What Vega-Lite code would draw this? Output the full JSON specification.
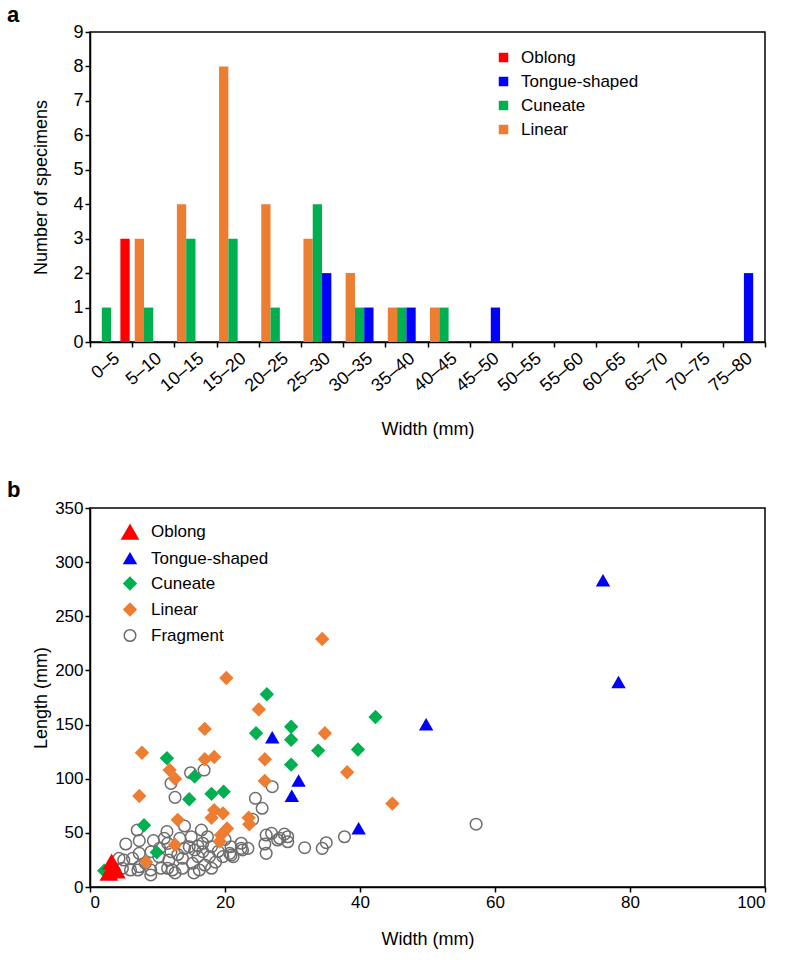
{
  "$schema": "https://vega.github.io/schema/vega-lite/v6.json",
  "background": "white",
  "padding": {"left": 6, "top": 3, "right": 15, "bottom": 5},
  "spacing": 38,
  "config": {
    "font": "Liberation Sans",
    "view": {"stroke": "black", "strokeWidth": 1.5},
    "axis": {"domainColor": "black", "domainWidth": 1.5, "tickColor": "black", "tickWidth": 1.5, "tickSize": 5, "labelColor": "black", "titleColor": "black", "labelFontSize": 17, "titleFontSize": 18, "titleFontWeight": "normal", "grid": false, "labelFont": "Liberation Sans", "titleFont": "Liberation Sans"},
    "legend": {"labelFontSize": 17, "labelFont": "Liberation Sans", "labelColor": "black"},
    "title": {"font": "Liberation Sans", "fontSize": 22, "fontWeight": "bold", "color": "black"}
  },
  "datasets": {
    "hist": [
      {"bin": "0–5", "type": "Cuneate", "count": 1},
      {"bin": "0–5", "type": "Oblong", "count": 3},
      {"bin": "5–10", "type": "Linear", "count": 3},
      {"bin": "5–10", "type": "Cuneate", "count": 1},
      {"bin": "10–15", "type": "Linear", "count": 4},
      {"bin": "10–15", "type": "Cuneate", "count": 3},
      {"bin": "15–20", "type": "Linear", "count": 8},
      {"bin": "15–20", "type": "Cuneate", "count": 3},
      {"bin": "20–25", "type": "Linear", "count": 4},
      {"bin": "20–25", "type": "Cuneate", "count": 1},
      {"bin": "25–30", "type": "Linear", "count": 3},
      {"bin": "25–30", "type": "Cuneate", "count": 4},
      {"bin": "25–30", "type": "Tongue-shaped", "count": 2},
      {"bin": "30–35", "type": "Linear", "count": 2},
      {"bin": "30–35", "type": "Cuneate", "count": 1},
      {"bin": "30–35", "type": "Tongue-shaped", "count": 1},
      {"bin": "35–40", "type": "Linear", "count": 1},
      {"bin": "35–40", "type": "Cuneate", "count": 1},
      {"bin": "35–40", "type": "Tongue-shaped", "count": 1},
      {"bin": "40–45", "type": "Linear", "count": 1},
      {"bin": "40–45", "type": "Cuneate", "count": 1},
      {"bin": "45–50", "type": "Tongue-shaped", "count": 1},
      {"bin": "75–80", "type": "Tongue-shaped", "count": 2}
    ],
    "pts": [
      {"type": "Fragment", "w": 14.9, "l": 105.5}, {"type": "Fragment", "w": 16.9, "l": 108}, {"type": "Fragment", "w": 12.0, "l": 95.7},
      {"type": "Fragment", "w": 12.6, "l": 82.8}, {"type": "Fragment", "w": 27.0, "l": 92.6}, {"type": "Fragment", "w": 24.5, "l": 81.9},
      {"type": "Fragment", "w": 25.5, "l": 72.7}, {"type": "Fragment", "w": 24.1, "l": 62.5}, {"type": "Fragment", "w": 7.0, "l": 52.6},
      {"type": "Fragment", "w": 11.4, "l": 51.1}, {"type": "Fragment", "w": 14.0, "l": 56.3}, {"type": "Fragment", "w": 16.5, "l": 52.6},
      {"type": "Fragment", "w": 17.4, "l": 46.4}, {"type": "Fragment", "w": 5.3, "l": 39.7}, {"type": "Fragment", "w": 7.3, "l": 42.8},
      {"type": "Fragment", "w": 9.4, "l": 42.8}, {"type": "Fragment", "w": 11.0, "l": 45}, {"type": "Fragment", "w": 13.3, "l": 45},
      {"type": "Fragment", "w": 15.0, "l": 46.4}, {"type": "Fragment", "w": 16.0, "l": 37.9}, {"type": "Fragment", "w": 18.0, "l": 37.2},
      {"type": "Fragment", "w": 20.9, "l": 37.2}, {"type": "Fragment", "w": 22.4, "l": 40.4}, {"type": "Fragment", "w": 23.4, "l": 35.7},
      {"type": "Fragment", "w": 26.1, "l": 48}, {"type": "Fragment", "w": 27.8, "l": 43.4}, {"type": "Fragment", "w": 29.3, "l": 46.4},
      {"type": "Fragment", "w": 28.8, "l": 48.8}, {"type": "Fragment", "w": 25.9, "l": 39.7}, {"type": "Fragment", "w": 26.1, "l": 31.1},
      {"type": "Fragment", "w": 31.8, "l": 36.3}, {"type": "Fragment", "w": 34.4, "l": 35.7}, {"type": "Fragment", "w": 35.0, "l": 40.9},
      {"type": "Fragment", "w": 37.7, "l": 46.4}, {"type": "Fragment", "w": 57.2, "l": 58},
      {"type": "Fragment", "w": 11.5, "l": 40.3}, {"type": "Fragment", "w": 14.7, "l": 37.2}, {"type": "Fragment", "w": 5.0, "l": 24.9},
      {"type": "Fragment", "w": 6.3, "l": 26.5}, {"type": "Fragment", "w": 7.3, "l": 31.1}, {"type": "Fragment", "w": 10.2, "l": 28},
      {"type": "Fragment", "w": 11.7, "l": 24.9}, {"type": "Fragment", "w": 13.7, "l": 26.5}, {"type": "Fragment", "w": 15.2, "l": 21.9},
      {"type": "Fragment", "w": 4.8, "l": 17.3}, {"type": "Fragment", "w": 6.0, "l": 15.7}, {"type": "Fragment", "w": 7.3, "l": 18.7},
      {"type": "Fragment", "w": 9.0, "l": 11.1}, {"type": "Fragment", "w": 10.5, "l": 17.3}, {"type": "Fragment", "w": 12.2, "l": 15.7},
      {"type": "Fragment", "w": 13.7, "l": 17.3}, {"type": "Fragment", "w": 16.7, "l": 40.4}, {"type": "Fragment", "w": 17.7, "l": 28},
      {"type": "Fragment", "w": 16.0, "l": 28}, {"type": "Fragment", "w": 17.0, "l": 20.3}, {"type": "Fragment", "w": 18.0, "l": 17.3},
      {"type": "Fragment", "w": 16.2, "l": 15.7}, {"type": "Fragment", "w": 19.7, "l": 28}, {"type": "Fragment", "w": 20.7, "l": 31.1},
      {"type": "Fragment", "w": 22.6, "l": 34.2}, {"type": "Fragment", "w": 21.2, "l": 28}, {"type": "Fragment", "w": 26.9, "l": 49.6},
      {"type": "Fragment", "w": 28.1, "l": 45}, {"type": "Fragment", "w": 29.3, "l": 41.8}, {"type": "Fragment", "w": 9.05, "l": 32.6},
      {"type": "Fragment", "w": 10.3, "l": 35.7}, {"type": "Fragment", "w": 12.0, "l": 32.6}, {"type": "Fragment", "w": 14.0, "l": 35.7},
      {"type": "Fragment", "w": 15.5, "l": 34.2}, {"type": "Fragment", "w": 16.7, "l": 32.6}, {"type": "Fragment", "w": 11.5, "l": 17.3},
      {"type": "Fragment", "w": 9.0, "l": 15.7}, {"type": "Fragment", "w": 7.1, "l": 15.7}, {"type": "Fragment", "w": 4.3, "l": 26.5},
      {"type": "Fragment", "w": 20.9, "l": 29.5}, {"type": "Fragment", "w": 22.4, "l": 35.7}, {"type": "Fragment", "w": 8.2, "l": 22},
      {"type": "Fragment", "w": 13.0, "l": 30}, {"type": "Fragment", "w": 19.0, "l": 33}, {"type": "Fragment", "w": 18.6, "l": 23},
      {"type": "Fragment", "w": 12.6, "l": 13}, {"type": "Fragment", "w": 15.4, "l": 13}, {"type": "Fragment", "w": 20.0, "l": 44},
      {"type": "Linear", "w": 34.4, "l": 229}, {"type": "Linear", "w": 20.2, "l": 193}, {"type": "Linear", "w": 34.8, "l": 142},
      {"type": "Linear", "w": 38.1, "l": 106}, {"type": "Linear", "w": 44.8, "l": 77}, {"type": "Linear", "w": 25.0, "l": 164},
      {"type": "Linear", "w": 17.0, "l": 146}, {"type": "Linear", "w": 25.9, "l": 118}, {"type": "Linear", "w": 25.9, "l": 98},
      {"type": "Linear", "w": 17.0, "l": 118}, {"type": "Linear", "w": 18.4, "l": 120}, {"type": "Linear", "w": 7.7, "l": 124},
      {"type": "Linear", "w": 11.8, "l": 108}, {"type": "Linear", "w": 12.6, "l": 100}, {"type": "Linear", "w": 7.3, "l": 84},
      {"type": "Linear", "w": 18.4, "l": 71}, {"type": "Linear", "w": 19.7, "l": 68}, {"type": "Linear", "w": 18.0, "l": 64},
      {"type": "Linear", "w": 13.0, "l": 62}, {"type": "Linear", "w": 23.5, "l": 64}, {"type": "Linear", "w": 23.6, "l": 58},
      {"type": "Linear", "w": 20.3, "l": 54}, {"type": "Linear", "w": 19.4, "l": 48}, {"type": "Linear", "w": 19.2, "l": 42},
      {"type": "Linear", "w": 12.6, "l": 39}, {"type": "Linear", "w": 8.3, "l": 23},
      {"type": "Cuneate", "w": 24.6, "l": 142}, {"type": "Cuneate", "w": 29.8, "l": 148}, {"type": "Cuneate", "w": 29.8, "l": 136},
      {"type": "Cuneate", "w": 33.8, "l": 126}, {"type": "Cuneate", "w": 39.7, "l": 127}, {"type": "Cuneate", "w": 29.8, "l": 113},
      {"type": "Cuneate", "w": 11.4, "l": 119}, {"type": "Cuneate", "w": 15.5, "l": 102}, {"type": "Cuneate", "w": 14.7, "l": 81},
      {"type": "Cuneate", "w": 18.0, "l": 86}, {"type": "Cuneate", "w": 19.8, "l": 88}, {"type": "Cuneate", "w": 8.0, "l": 57},
      {"type": "Cuneate", "w": 9.9, "l": 32}, {"type": "Cuneate", "w": 2.1, "l": 15}, {"type": "Cuneate", "w": 42.3, "l": 157},
      {"type": "Cuneate", "w": 26.2, "l": 178},
      {"type": "Tongue-shaped", "w": 76.0, "l": 283}, {"type": "Tongue-shaped", "w": 78.3, "l": 189}, {"type": "Tongue-shaped", "w": 49.8, "l": 150},
      {"type": "Tongue-shaped", "w": 39.8, "l": 54}, {"type": "Tongue-shaped", "w": 30.9, "l": 98}, {"type": "Tongue-shaped", "w": 29.9, "l": 84},
      {"type": "Tongue-shaped", "w": 27.0, "l": 138},
      {"type": "Oblong", "w": 3.2, "l": 23}, {"type": "Oblong", "w": 3.9, "l": 15}, {"type": "Oblong", "w": 2.8, "l": 13}
    ]
  },
  "resolve": {"scale": {"x": "independent", "y": "independent", "color": "independent", "shape": "independent", "fill": "independent", "stroke": "independent", "size": "independent"}, "legend": {"color": "independent", "shape": "independent", "fill": "independent", "stroke": "independent", "size": "independent"}},
  "vconcat": [
    {
      "title": {"text": "a", "anchor": "start", "frame": "group", "dx": -83, "offset": -4},
      "width": 675,
      "height": 310,
      "data": {"name": "hist"},
      "mark": {"type": "bar"},
      "encoding": {
        "x": {"field": "bin", "type": "nominal", "sort": ["0–5","5–10","10–15","15–20","20–25","25–30","30–35","35–40","40–45","45–50","50–55","55–60","60–65","65–70","70–75","75–80"],
              "scale": {"domain": ["0–5","5–10","10–15","15–20","20–25","25–30","30–35","35–40","40–45","45–50","50–55","55–60","60–65","65–70","70–75","75–80"], "paddingInner": 0, "paddingOuter": 0},
              "axis": {"title": "Width (mm)", "tickBand": "extent", "labelAngle": -40, "labelAlign": "right", "labelBaseline": "top", "labelFontSize": 18, "labelPadding": 2, "titlePadding": 26, "labelFlush": false}},
        "xOffset": {"field": "type", "type": "nominal", "scale": {"domain": ["Linear", "Cuneate", "Tongue-shaped", "Oblong"], "paddingInner": 0, "paddingOuter": 0.27}},
        "y": {"field": "count", "type": "quantitative", "scale": {"domain": [0, 9]},
              "axis": {"title": "Number of specimens", "values": [0,1,2,3,4,5,6,7,8,9], "labelFontSize": 18, "titlePadding": 22}},
        "color": {"field": "type", "type": "nominal",
                  "scale": {"domain": ["Oblong", "Tongue-shaped", "Cuneate", "Linear"], "range": ["#FF0000", "#0000FF", "#00B050", "#ED7D31"]},
                  "legend": {"orient": "none", "legendX": 405, "legendY": 17, "title": null, "symbolType": "square", "symbolSize": 90, "rowPadding": 6, "labelOffset": 9}}
      }
    },
    {
      "title": {"text": "b", "anchor": "start", "frame": "group", "dx": -83, "offset": -3},
      "width": 675,
      "height": 379,
      "data": {"name": "pts"},
      "mark": {"type": "point", "strokeWidth": 1.5, "opacity": 1},
      "encoding": {
        "x": {"field": "w", "type": "quantitative", "scale": {"domain": [0, 100]},
              "axis": {"title": "Width (mm)", "values": [0,20,40,60,80,100], "titlePadding": 20}},
        "y": {"field": "l", "type": "quantitative", "scale": {"domain": [0, 350]},
              "axis": {"title": "Length (mm)", "values": [0,50,100,150,200,250,300,350], "titlePadding": 4}},
        "shape": {"field": "type", "type": "nominal",
                  "scale": {"domain": ["Oblong", "Tongue-shaped", "Cuneate", "Linear", "Fragment"], "range": ["triangle-up", "triangle-up", "diamond", "diamond", "circle"]},
                  "legend": {"orient": "none", "legendX": 31, "legendY": 15, "title": null, "rowPadding": 7, "labelOffset": 12, "symbolStrokeWidth": 1.5}},
        "fill": {"field": "type", "type": "nominal",
                 "scale": {"domain": ["Oblong", "Tongue-shaped", "Cuneate", "Linear", "Fragment"], "range": ["#FF0000", "#0000FF", "#00B050", "#ED7D31", "transparent"]},
                 "legend": {"orient": "none", "legendX": 31, "legendY": 15, "title": null, "rowPadding": 7, "labelOffset": 12, "symbolStrokeWidth": 1.5}},
        "stroke": {"field": "type", "type": "nominal",
                   "scale": {"domain": ["Oblong", "Tongue-shaped", "Cuneate", "Linear", "Fragment"], "range": ["#FF0000", "#0000FF", "#00B050", "#ED7D31", "#6E6E6E"]},
                   "legend": {"orient": "none", "legendX": 31, "legendY": 15, "title": null, "rowPadding": 7, "labelOffset": 12, "symbolStrokeWidth": 1.5}},
        "size": {"field": "type", "type": "nominal",
                 "scale": {"type": "ordinal", "domain": ["Oblong", "Tongue-shaped", "Cuneate", "Linear", "Fragment"], "range": [260, 140, 150, 150, 135]},
                 "legend": {"orient": "none", "legendX": 31, "legendY": 15, "title": null, "rowPadding": 7, "labelOffset": 12, "symbolStrokeWidth": 1.5}}
      }
    }
  ]
}
